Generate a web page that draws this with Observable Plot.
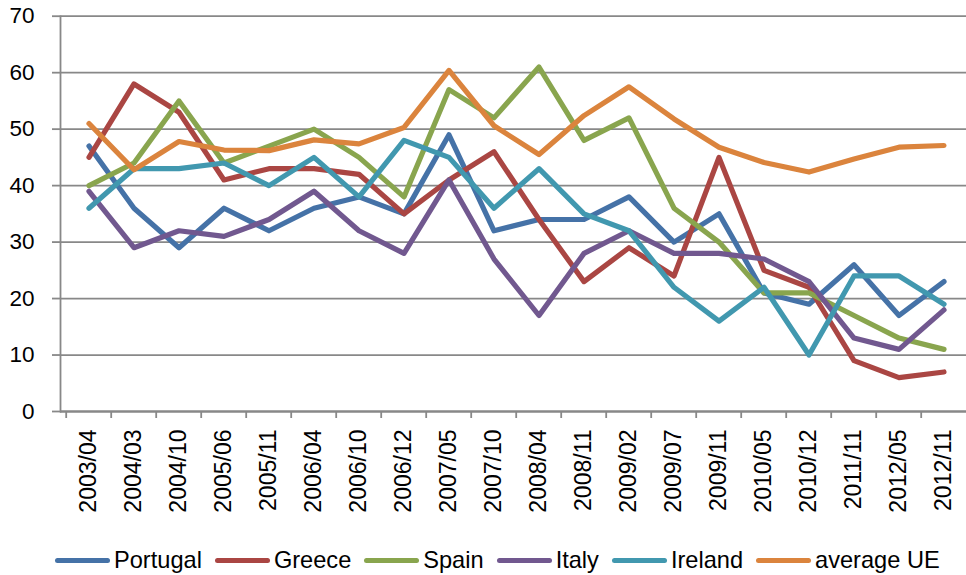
<!DOCTYPE html>
<html>
<head>
<meta charset="utf-8">
<script src="https://cdn.jsdelivr.net/npm/d3@7"></script>
<script src="https://cdn.jsdelivr.net/npm/@observablehq/plot@0.6"></script>
<style>
  html, body { margin: 0; padding: 0; background: #fff; }
  #chart svg { display: block; }
  .legend { display: flex; align-items: center; height: 30px; padding-top: 15px; padding-left: 55px;
    font-family: "Liberation Sans", Arial, sans-serif; font-size: 23.6px; color: #000; }
  .legend .item { display: flex; align-items: center; margin-right: 13px; }
  .legend .sw { width: 55px; height: 5px; border-radius: 3px; margin-right: 4px; }
</style>
</head>
<body>
<div id="chart"></div>
<div class="legend" id="legend"></div>
<script>
const categories = ["2003/04","2004/03","2004/10","2005/06","2005/11","2006/04","2006/10","2006/12","2007/05","2007/10","2008/04","2008/11","2009/02","2009/07","2009/11","2010/05","2010/12","2011/11","2012/05","2012/11"];
const seriesNames = ["Portugal","Greece","Spain","Italy","Ireland","average UE"];
const portugal  = [47,36,29,36,32,36,38,35,49,32,34,34,38,30,35,21,19,26,17,23];
const greece    = [45,58,53,41,43,43,42,35,41,46,34,23,29,24,45,25,22,9,6,7];
const spain     = [40,44,55,44,47,50,45,38,57,52,61,48,52,36,30,21,21,17,13,11];
const italy     = [39,29,32,31,34,39,32,28,41,27,17,28,32,28,28,27,23,13,11,18];
const ireland   = [36,43,43,44,40,45,38,48,45,36,43,35,32,22,16,22,10,24,24,19];
const averageUE = [51,42.8,47.8,46.3,46.2,48.1,47.4,50.3,60.4,50.6,45.5,52.4,57.5,51.8,46.8,44.1,42.4,44.7,46.8,47.1];
const yTicks = [0,10,20,30,40,50,60,70];

const seriesColors = ["#4572A7","#AA4643","#89A54E","#71588F","#4198AF","#DB843D"];
const valuesBySeries = [portugal, greece, spain, italy, ireland, averageUE];

const rows = [];
seriesNames.forEach((s, si) => {
  categories.forEach((c, i) => rows.push({series: s, category: c, value: valuesBySeries[si][i]}));
});

const gray = "#888888";
const half = (972 - 60) / categories.length / 2;

const chart = Plot.plot({
  width: 966,
  height: 530,
  marginLeft: 60,
  marginRight: 0,
  marginTop: 16,
  marginBottom: 119,
  style: {fontFamily: "'Liberation Sans', Arial, sans-serif", fontSize: "22px", color: "#000", background: "#fff", overflow: "visible"},
  x: {type: "band", domain: categories, range: [60, 972], padding: 0, label: null},
  y: {domain: [0, 70], range: [411, 15.7], label: null},
  color: {domain: seriesNames, range: seriesColors},
  marks: [
    Plot.gridY(yTicks, {stroke: gray, strokeOpacity: 1, strokeWidth: 1.8}),
    Plot.axisY(yTicks, {tickSize: 8, text: null, label: null, stroke: gray, strokeWidth: 1.8}),
    Plot.text(yTicks, {y: d => d, text: d => String(d), frameAnchor: "left", dx: -26, textAnchor: "end", fontSize: 22.5, fill: "#000"}),
    Plot.frame({anchor: "left", stroke: gray, strokeWidth: 1.8}),
    Plot.ruleY([0], {stroke: gray, strokeWidth: 1.8}),
    Plot.axisX({tickSize: 7, text: null, label: null, dx: -half, stroke: gray, strokeWidth: 1.8}),
    Plot.axisX({tickSize: 0, tickRotate: -90, tickPadding: 18, label: null, fontSize: 23, fill: "#000"}),
    Plot.line(rows, {x: "category", y: "value", z: "series", stroke: "series",
      strokeWidth: 5.2, strokeLinejoin: "round", strokeLinecap: "round"})
  ]
});
document.getElementById("chart").appendChild(chart);

const legend = document.getElementById("legend");
seriesNames.forEach((s, i) => {
  const item = document.createElement("div");
  item.className = "item";
  const sw = document.createElement("div");
  sw.className = "sw";
  sw.style.background = seriesColors[i];
  const t = document.createElement("span");
  t.textContent = s;
  item.appendChild(sw);
  item.appendChild(t);
  legend.appendChild(item);
});
</script>
</body>
</html>
